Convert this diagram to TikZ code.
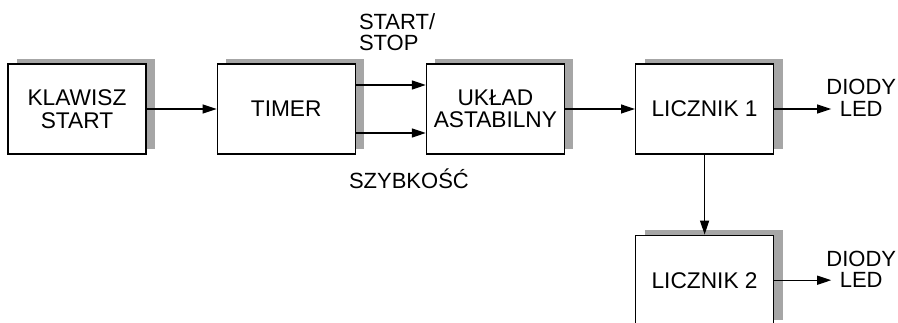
\documentclass[tikz,border=0pt]{standalone}
\usepackage{fontspec}
\setmainfont{Liberation Sans}
\usetikzlibrary{arrows.meta,positioning,shadows}

\begin{document}
\begin{tikzpicture}[
  x=1pt, y=1pt,
  node distance=70pt and 70pt,
  blok/.style={rectangle, draw, line width=1.2pt, fill=white, align=center,
              minimum width=138pt, minimum height=90pt, inner sep=0pt,
              font=\fontsize{22.7}{22.5}\selectfont,
              drop shadow={shadow xshift=9pt, shadow yshift=5pt, fill=black!35, opacity=1}},
  opis/.style={inner sep=0pt, font=\fontsize{22}{21.5}\selectfont},
  strz/.style={-{Triangle[length=14pt, width=9pt]}, line width=1.2pt}
]
\useasboundingbox (0,0) rectangle (898,-323);
\node[blok] (klawisz) at (77,-109) {KLAWISZ\\START};
\node[blok, right=of klawisz] (timer) {TIMER};
\node[blok, right=of timer] (uklad) {UKŁAD\\ASTABILNY};
\node[blok, right=of uklad] (licznik1) {LICZNIK 1};
\node[blok, below=80pt of licznik1] (licznik2) {LICZNIK 2};

\node[opis, align=left, anchor=south west] (startstop) at ([xshift=3pt, yshift=12pt]timer.north east) {START/\\STOP};
\node[opis, anchor=base west] (szybkosc) at ([xshift=-7pt, yshift=-34pt]timer.south east) {SZYBKOŚĆ};
\node[opis, align=center, right=52pt of licznik1, yshift=11pt] (led1) {DIODY\\LED};
\node[opis, align=center, right=52pt of licznik2, yshift=11pt] (led2) {DIODY\\LED};

\draw[strz] (klawisz) -- (timer);
\draw[strz] ([yshift=24pt]timer.east) -- ([yshift=24pt]uklad.west);
\draw[strz] ([yshift=-24pt]timer.east) -- ([yshift=-24pt]uklad.west);
\draw[strz] (uklad) -- (licznik1);
\draw[strz] (licznik1.east) -- ([xshift=5pt]led1.west |- licznik1.east);
\draw[strz] (licznik1) -- (licznik2);
\draw[strz] (licznik2.east) -- ([xshift=5pt]led2.west |- licznik2.east);
\end{tikzpicture}
\end{document}
